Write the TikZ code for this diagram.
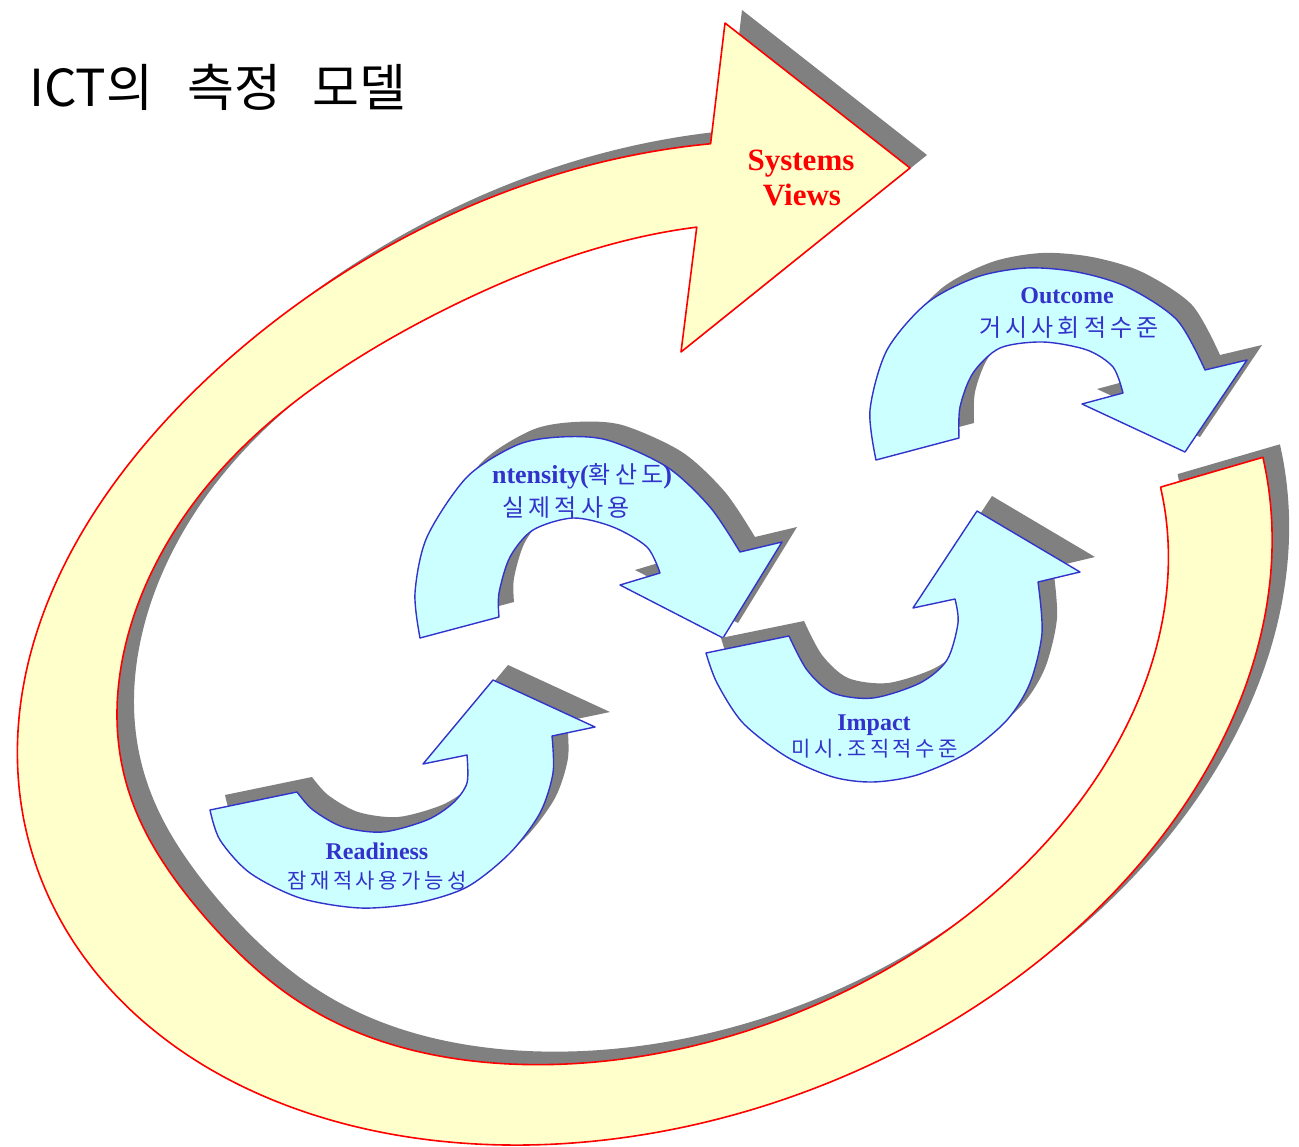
\documentclass[tikz,border=0pt]{standalone}
\usepackage{fontspec}
\setmainfont{Liberation Serif}
\newfontfamily\krfont{Noto Sans CJK KR}
\newfontfamily\krspaced{Noto Sans CJK KR}[LetterSpace=17]
\definecolor{ringfill}{HTML}{FFFFCC}
\definecolor{ringline}{HTML}{FF0000}
\definecolor{shade}{HTML}{808080}
\definecolor{arrowfill}{HTML}{CCFFFF}
\definecolor{arrowline}{HTML}{3333CC}
\newcommand\pathRing{(1161,487) -- plot[domain=6:292, samples=140, smooth, variable=\t] ({643.5+fo(\t)*(604.8*cos(\t)+171.6*sin(\t))},{642+fo(\t)*(0-232.6*cos(\t)+446.1*sin(\t))}) -- (725,23) -- (910,168) -- (681,352) -- plot[domain=292:6, samples=140, smooth, variable=\t] ({641.5+fi(\t)*(506.8*cos(\t)+144.3*sin(\t))},{642+fi(\t)*(0-194.9*cos(\t)+375.2*sin(\t))}) -- cycle}
\newcommand\pathIntens{(499,617) -- (420,638) -- plot[smooth] coordinates {(420,638) (415,593) (427,537) (467,477) (517,445) (560,437) (607,440) (667,467) (710,507) (740,552)} -- (782,542) -- (723,638) -- (620,585) -- (660,573) -- plot[smooth] coordinates {(660,573) (647,547) (613,527) (573,518) (533,530) (510,557) (499,593) (499,617)} -- cycle}
\newcommand\pathOutcome{(959,438) -- (876,460) -- plot[smooth] coordinates {(876,460) (870,410) (887,350) (927,303) (977,277) (1027,268) (1077,272) (1127,287) (1177,320) (1205,370)} -- (1247,360) -- (1185,452) -- (1082,404) -- (1123,393) -- plot[smooth] coordinates {(1123,393) (1113,367) (1087,350) (1043,342) (1000,348) (973,373) (960,407) (959,438)} -- cycle}
\newcommand\pathReady{(297,792) -- (210,810) -- plot[smooth] coordinates {(210,810) (220,840) (250,873) (300,898) (360,908) (417,903) (467,887) (510,853) (540,813) (553,773) (552,736)} -- (595,727) -- (493,680) -- (423,764) -- (467,755) -- plot[smooth] coordinates {(467,755) (467,783) (453,803) (427,820) (383,832) (343,827) (313,810) (297,792)} -- cycle}
\newcommand\pathImpact{(789,636) -- (706,653) -- plot[smooth] coordinates {(706,653) (717,683) (743,723) (787,757) (833,777) (873,782) (917,775) (967,753) (1007,720) (1030,683) (1042,633) (1038,582)} -- (1080,572) -- (977,511) -- (913,608) -- (955,599) -- plot[smooth] coordinates {(955,599) (958,623) (947,660) (920,683) (873,698) (833,693) (807,670) (789,636)} -- cycle}
\begin{document}
\begin{tikzpicture}[x=1pt,y=-1pt,
  declare function={fo(\t)=1-0.03*exp(0-((\t-245)/35)^2);
                    fi(\t)=1-0.045*exp(0-((\t-262)/28)^2)-0.035*exp(0-((\t-165)/22)^2);},
  ringshape/.style={fill=ringfill, draw=ringline, line width=1.6pt, line join=round},
  ringshadow/.style={fill=shade, shift={(17,-13)}},
  bluearrow/.style={fill=arrowfill, draw=arrowline, line width=1.4pt, line join=round},
  blueshadow/.style={fill=shade, shift={(15,-15)}},
  titletext/.style={font=\krfont\fontsize{51}{60}\selectfont, anchor=base west, inner sep=0pt},
  redlabel/.style={font=\bfseries\fontsize{31}{36}\selectfont, text=ringline, anchor=base, inner sep=0pt},
  bluelatin/.style={font=\bfseries\fontsize{24}{28}\selectfont, text=arrowline, anchor=base, inner sep=0pt},
  bluekorean/.style={font=\krspaced\fontsize{21}{25}\selectfont, text=arrowline, anchor=base, inner sep=0pt}]
\useasboundingbox (0,0) rectangle (1299,1147);
\fill[white] (0,0) rectangle (1299,1147);
% big ring arrow
\fill[ringshadow] \pathRing;
\path[ringshape] \pathRing;
% blue arrows
\fill[blueshadow] \pathReady;
\path[bluearrow] \pathReady;
\fill[blueshadow] \pathIntens;
\path[bluearrow] \pathIntens;
\fill[blueshadow] \pathImpact;
\path[bluearrow] \pathImpact;
\fill[blueshadow] \pathOutcome;
\path[bluearrow] \pathOutcome;
% texts
\node[titletext] (title) at (29,107) {ICT의\hspace{34pt}측정\hspace{32pt}모델};
\node[redlabel] (sys1) at (801,171) {Systems};
\node[redlabel] (sys2) at (802,206) {Views};
\node[bluelatin, font=\bfseries\fontsize{26}{30}\selectfont] (intEn) at (582,483) {ntensity({\mdseries\krspaced\fontsize{24}{28}\selectfont 확산도})};
\node[bluekorean, font=\krspaced\fontsize{24}{28}\selectfont] (intKo) at (566,516) {실제적사용};
\node[bluelatin] (outEn) at (1067,304) {Outcome};
\node[bluekorean, font=\krspaced\fontsize{24}{28}\selectfont] (outKo) at (1069,337) {거시사회적수준};
\node[bluelatin] (impEn) at (874,730) {Impact};
\node[bluekorean, font=\krspaced\fontsize{21}{25}\selectfont] (impKo) at (875,756) {미시.조직적수준};
\node[bluelatin] (rdEn) at (377,859) {Readiness};
\node[bluekorean, font=\krspaced\fontsize{21}{25}\selectfont] (rdKo) at (377,888) {잠재적사용가능성};
\end{tikzpicture}
\end{document}
